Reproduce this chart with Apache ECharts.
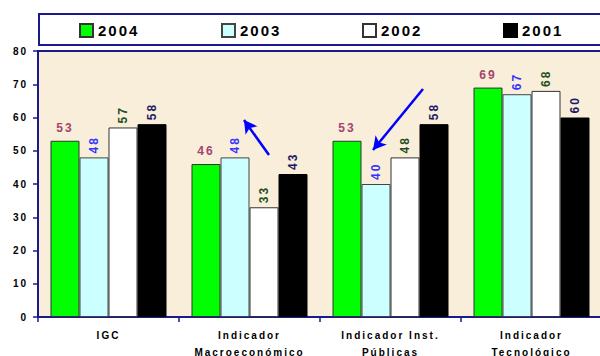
<!DOCTYPE html>
<html>
<head>
<meta charset="utf-8">
<script src="https://cdn.jsdelivr.net/npm/echarts@6/dist/echarts.min.js"></script>
<style>
html,body{margin:0;padding:0;background:#fff;}
#chart{width:600px;height:356px;}
#chart text{letter-spacing:2px;}
</style>
</head>
<body>
<div id="chart"></div>
<script>
var categories = ['IGC', 'Indicador\nMacroeconómico', 'Indicador Inst.\nPúblicas', 'Indicador\nTecnológico'];
var seriesNames = ['2004', '2003', '2002', '2001'];
var values2004 = [53, 46, 53, 69];
var values2003 = [48, 48, 40, 67];
var values2002 = [57, 33, 48, 68];
var values2001 = [58, 43, 58, 60];
var yTicks = [0, 10, 20, 30, 40, 50, 60, 70, 80];

var FONT = '"Liberation Sans", Arial, sans-serif';
var BLUE = '#1a1a8c';

function makeSeries(name, data, fill, border, labelColor, rotated) {
  var label = rotated ? {
    show: true, position: 'top', rotate: 90, align: 'left', verticalAlign: 'middle',
    distance: 4, color: labelColor, fontSize: 12, fontWeight: 'bold', fontFamily: FONT
  } : {
    show: true, position: 'top', distance: 7, color: labelColor,
    fontSize: 12, fontWeight: 'bold', fontFamily: FONT
  };
  return {
    name: name, type: 'bar', data: data, barWidth: 29, barGap: '0%',
    itemStyle: { color: fill, borderColor: border, borderWidth: 1 },
    label: label, silent: true, animation: false
  };
}

var chart = echarts.init(document.getElementById('chart'), null, { renderer: 'svg' });
var series = [
  makeSeries(seriesNames[0], values2004, '#00ff00', '#333333', '#a3456e', false),
  makeSeries(seriesNames[1], values2003, '#ccffff', '#444444', '#3333ff', true),
  makeSeries(seriesNames[2], values2002, '#ffffff', '#333333', '#1f4f1f', true),
  makeSeries(seriesNames[3], values2001, '#000000', '#000000', '#1a1a66', true)
];
series[0].markLine = {
  silent: true, animation: false, label: { show: false },
  lineStyle: { color: '#0000ff', width: 2.5, type: 'solid' },
  symbol: ['none', 'arrow'], symbolSize: [11, 13],
  data: [
    [{ x: 269, y: 155 }, { x: 244, y: 120 }],
    [{ x: 423, y: 89 }, { x: 373, y: 150 }]
  ]
};

var legendLefts = [79, 221, 362, 503];
var legends = seriesNames.map(function (n, i) {
  return {
    left: legendLefts[i], top: 23, padding: 0, itemWidth: 13, itemHeight: 13, itemGap: 5,
    icon: 'rect', data: [n], selectedMode: false,
    textStyle: { fontSize: 15, fontWeight: 'bold', color: '#000', fontFamily: FONT }
  };
});

chart.setOption({
  animation: false,
  backgroundColor: '#ffffff',
  textStyle: { fontFamily: FONT },
  graphic: [{
    type: 'rect', left: 38, top: 13, z: -1,
    shape: { width: 600, height: 31 },
    style: { fill: '#ffffff', stroke: BLUE, lineWidth: 2 }
  }],
  legend: legends,
  grid: {
    left: 38, top: 51, width: 564, height: 266, outerBoundsMode: 'none', containLabel: false,
    show: true, backgroundColor: '#f9eed9', borderColor: BLUE, borderWidth: 2
  },
  xAxis: {
    type: 'category', data: categories,
    axisLine: { lineStyle: { color: BLUE, width: 2 } },
    axisTick: { show: true, length: 5, lineStyle: { color: BLUE, width: 1.5 } },
    axisLabel: { margin: 10, fontSize: 10, fontWeight: 'bold', color: '#000', lineHeight: 17, fontFamily: FONT, interval: 0 }
  },
  yAxis: {
    type: 'value', min: yTicks[0], max: yTicks[yTicks.length - 1], interval: 10,
    axisLine: { show: true, lineStyle: { color: BLUE, width: 2 } },
    axisTick: { show: true, length: 5, lineStyle: { color: BLUE, width: 1.5 } },
    splitLine: { show: false },
    axisLabel: { margin: 10, fontSize: 10, fontWeight: 'bold', color: '#000', fontFamily: FONT }
  },
  series: series
});
</script>
</body>
</html>
